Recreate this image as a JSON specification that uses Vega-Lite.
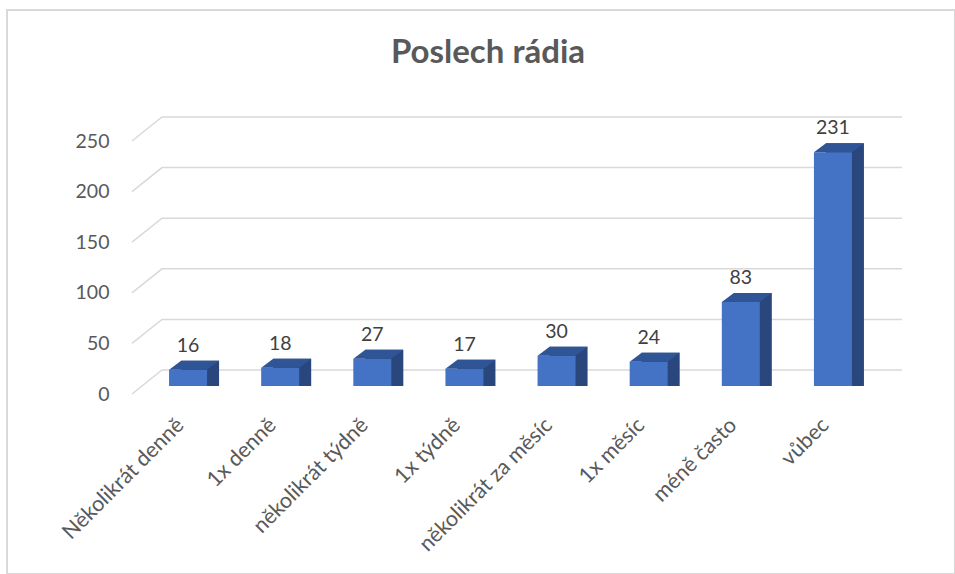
{
  "$schema": "https://vega.github.io/schema/vega-lite/v6.json",
  "width": 948,
  "height": 564,
  "padding": {"left": 7, "top": 10, "right": 0, "bottom": 0},
  "autosize": {"type": "none"},
  "background": "white",
  "config": {"view": {"stroke": "#d9d9d9", "strokeWidth": 2}, "font": "Lato"},
  "title": {"text": "Poslech rádia", "font": "Lato", "fontSize": 33, "fontWeight": "bold", "color": "#595959", "anchor": "middle", "frame": "group", "baseline": "alphabetic", "offset": 0, "dy": 86, "dx": 7},
  "datasets": {
    "bars": [
      {"cat": "Několikrát denně", "value": 16},
      {"cat": "1x denně", "value": 18},
      {"cat": "několikrát týdně", "value": 27},
      {"cat": "1x týdně", "value": 17},
      {"cat": "několikrát za měsíc", "value": 30},
      {"cat": "1x měsíc", "value": 24},
      {"cat": "méně často", "value": 83},
      {"cat": "vůbec", "value": 231}
    ],
    "ticks": [{"v": 0}, {"v": 50}, {"v": 100}, {"v": 150}, {"v": 200}, {"v": 250}]
  },
  "layer": [
    {
      "data": {"name": "ticks"},
      "mark": {"type": "point", "shape": "M-349,8L-319,-16L421,-16", "size": 4, "filled": false, "stroke": "#d9d9d9", "strokeWidth": 1.5, "opacity": 1},
      "encoding": {
        "y": {"field": "v", "type": "quantitative",
          "scale": {"domain": [0, 250], "range": [376, 123], "nice": false, "zero": true},
          "axis": {"values": [0, 50, 100, 150, 200, 250], "domain": false, "ticks": false, "tickSize": 0, "grid": false, "labelPadding": 0, "offset": -102, "labelOffset": 8, "labelFont": "Lato", "labelFontSize": 19.5, "labelColor": "#595959", "title": null}}
      }
    },
    {
      "data": {"name": "bars"},
      "encoding": {
        "x": {"field": "cat", "type": "nominal", "sort": null,
          "scale": {"range": [135, 872], "paddingInner": 0.5874, "paddingOuter": 0.2937},
          "axis": {"labelAngle": -45, "domain": false, "ticks": false, "tickSize": 0, "labelPadding": 0, "offset": -160, "labelOffset": -15, "labelFont": "Lato", "labelFontSize": 21.5, "labelColor": "#595959", "labelLimit": 0, "title": null}}
      },
      "layer": [
        {
          "mark": {"type": "bar", "color": "#29477D", "xOffset": 12, "yOffset": -9, "opacity": 1},
          "encoding": {"y": {"field": "value", "type": "quantitative"}, "y2": {"datum": 0}}
        },
        {
          "mark": {"type": "point", "shape": "M19,0L31,-9L19,-9Z", "size": 4, "filled": true, "color": "#29477D", "strokeWidth": 0, "opacity": 1},
          "encoding": {"y": {"datum": 0, "type": "quantitative"}}
        },
        {
          "mark": {"type": "bar", "color": "#4472C4", "opacity": 1},
          "encoding": {"y": {"field": "value", "type": "quantitative"}, "y2": {"datum": 0}}
        },
        {
          "mark": {"type": "point", "shape": "M-19,0L19,0L31,-9L-7,-9Z", "size": 4, "filled": true, "color": "#2F5597", "strokeWidth": 0, "opacity": 1},
          "encoding": {"y": {"field": "value", "type": "quantitative"}}
        },
        {
          "mark": {"type": "text", "dy": -18, "baseline": "alphabetic", "align": "center", "font": "Lato", "fontSize": 19.5, "color": "#404040"},
          "encoding": {"y": {"field": "value", "type": "quantitative"}, "text": {"field": "value", "type": "quantitative"}}
        }
      ]
    }
  ]
}
